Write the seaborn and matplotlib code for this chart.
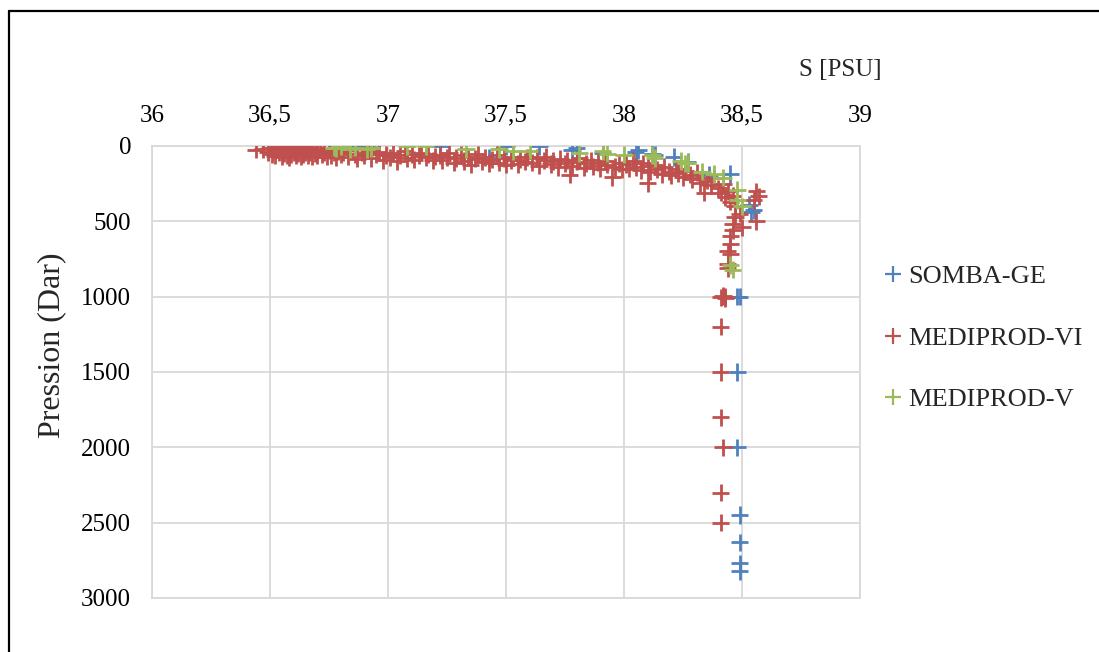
import matplotlib
matplotlib.use("Agg")
import matplotlib.pyplot as plt
from matplotlib.lines import Line2D
import numpy as np
import pandas as pd
import seaborn as sns

# ---- salinity (PSU) and pressure (dbar) for each cruise ----
somba_sal = [36.83, 36.87, 36.91, 37.22, 37.43, 37.50, 37.64, 37.78, 37.80, 37.91,
             38.05, 38.06, 38.12, 38.13, 38.21, 38.27, 38.36, 38.45, 38.53, 38.55,
             38.54, 38.48, 38.49, 38.48, 38.48, 38.49, 38.49, 38.49, 38.49]
somba_pres = [5, 5, 5, 0, 80, 0, 0, 25, 15, 47,
              40, 27, 50, 60, 73, 105, 190, 185, 390, 425,
              440, 1000, 1000, 1500, 2000, 2450, 2630, 2770, 2820]

mediprod_vi_sal = [
    36.44, 36.47, 36.49, 36.50, 36.51, 36.52, 36.52, 36.53, 36.54, 36.54,
    36.55, 36.55, 36.56, 36.56, 36.57, 36.57, 36.58, 36.58, 36.59, 36.59,
    36.60, 36.60, 36.61, 36.61, 36.62, 36.62, 36.63, 36.63, 36.64, 36.64,
    36.65, 36.65, 36.66, 36.66, 36.67, 36.68, 36.68, 36.69, 36.70, 36.70,
    36.71, 36.72, 36.73, 36.74, 36.75, 36.76, 36.77, 36.78, 36.79, 36.80,
    36.81, 36.83, 36.84, 36.86, 36.87, 36.89, 36.90, 36.92, 36.93, 36.95,
    36.96, 36.98, 36.99, 37.01, 37.02, 37.04, 37.05, 37.07, 37.08, 37.10,
    37.11, 37.13, 37.14, 37.16, 37.17, 37.19, 37.20,
    37.22, 37.23, 37.25, 37.26, 37.28, 37.29, 37.31, 37.32, 37.34, 37.35,
    37.37, 37.38, 37.40, 37.41, 37.43, 37.44, 37.46, 37.47, 37.49, 37.50,
    37.52, 37.53, 37.55, 37.56, 37.58, 37.59,
    37.61, 37.63, 37.64, 37.66, 37.67, 37.69, 37.70, 37.72, 37.73, 37.75,
    37.76, 37.77, 37.78, 37.80, 37.81, 37.83, 37.84, 37.86, 37.87, 37.89,
    37.90, 37.92, 37.93, 37.95, 37.96, 37.98, 37.99,
    38.01, 38.02, 38.04, 38.05, 38.07, 38.08, 38.10, 38.10, 38.11, 38.13,
    38.14, 38.16, 38.17, 38.19, 38.20, 38.22, 38.23, 38.25, 38.26, 38.28,
    38.29, 38.31, 38.32, 38.33, 38.34,
    38.35, 38.37, 38.38, 38.40, 38.41, 38.42, 38.43, 38.44, 38.45, 38.46,
    38.47, 38.56, 38.57, 38.55, 38.56, 38.50, 38.49, 38.47, 38.46, 38.45,
    38.46, 38.45, 38.44, 38.44, 38.44, 38.45, 38.43, 38.42, 38.41, 38.43,
    38.41, 38.41, 38.41, 38.42, 38.41, 38.41]
mediprod_vi_pres = [
    25, 20, 40, 10, 55, 30, 65, 15, 45, 5,
    35, 70, 20, 50, 10, 60, 40, 75, 25, 55,
    15, 45, 65, 30, 5, 50, 35, 70, 20, 55,
    40, 10, 60, 30, 45, 20, 70, 50, 35, 65,
    25, 55, 40, 70, 30, 60, 45, 75, 35, 55,
    40, 70, 25, 55, 85, 45, 65, 30, 80, 55,
    40, 95, 60, 75, 45, 100, 60, 35, 80, 55,
    90, 65, 45, 75, 55, 95, 70,
    60, 95, 75, 45, 110, 80, 60, 100, 70, 125,
    85, 55, 105, 75, 115, 90, 60, 110, 80, 125,
    95, 70, 120, 90, 105, 75,
    110, 80, 130, 95, 70, 120, 100, 140, 85, 115,
    95, 190, 130, 105, 80, 145, 115, 95, 135, 110,
    150, 100, 125, 205, 140, 115, 155,
    120, 150, 100, 140, 160, 115, 245, 135, 170, 125,
    155, 185, 140, 170, 195, 150, 180, 205, 165, 190,
    220, 175, 245, 210, 310,
    230, 260, 215, 280, 310, 250, 340, 300, 370, 330,
    400, 300, 335, 360, 500, 540, 450, 470, 560, 600,
    520, 650, 700, 780, 810, 720, 1000, 995, 1005, 1010,
    1200, 1500, 1800, 2000, 2300, 2500]

mediprod_v_sal = [36.77, 36.78, 36.80, 36.84, 36.86, 36.91, 36.93, 37.08, 37.16, 37.33,
                  37.47, 37.53, 37.60, 37.81, 37.91, 37.93, 38.00, 38.12, 38.13, 38.24,
                  38.26, 38.27, 38.33, 38.38, 38.42, 38.48, 38.48, 38.50, 38.45, 38.46]
mediprod_v_pres = [10, 15, 5, 20, 10, 20, 15, 0, 0, 20,
                   20, 35, 30, 47, 35, 50, 57, 60, 80, 100,
                   115, 113, 170, 185, 210, 290, 360, 400, 790, 820]

series_names = ["SOMBA-GE", "MEDIPROD-VI", "MEDIPROD-V"]
series_colors = ["#4F81BD", "#C0504D", "#9BBB59"]
x_ticks = [36, 36.5, 37, 37.5, 38, 38.5, 39]
x_tick_labels = ["36", "36,5", "37", "37,5", "38", "38,5", "39"]
y_ticks = [0, 500, 1000, 1500, 2000, 2500, 3000]

df = pd.concat([
    pd.DataFrame({"S": somba_sal, "P": somba_pres, "campagne": series_names[0]}),
    pd.DataFrame({"S": mediprod_vi_sal, "P": mediprod_vi_pres, "campagne": series_names[1]}),
    pd.DataFrame({"S": mediprod_v_sal, "P": mediprod_v_pres, "campagne": series_names[2]}),
], ignore_index=True)

sns.set_style("white")
plt.rcParams["font.family"] = ["Liberation Serif", "DejaVu Serif"]

W, H = 1099, 652
fig = plt.figure(figsize=(W / 100, H / 100), dpi=100)
ax = fig.add_axes([152 / W, 1 - 598 / H, (860 - 152) / W, (598 - 146) / H])

sns.scatterplot(data=df, x="S", y="P", hue="campagne", hue_order=series_names,
                palette=series_colors, marker="+", s=155, linewidth=2.0,
                legend=False, ax=ax, zorder=3)

ax.set_xlim(36, 39)
ax.set_ylim(3000, 0)
ax.xaxis.tick_top()
ax.set_xticks(x_ticks)
ax.set_xticklabels(x_tick_labels)
ax.set_yticks(y_ticks)
ax.tick_params(axis="x", length=0, pad=14, labelsize=18, colors="black")
ax.tick_params(axis="y", length=0, pad=15, labelsize=18, colors="black")
ax.set_xlabel("")
ax.set_ylabel("")
ax.grid(True, color="#D9D9D9", linewidth=1.3, zorder=0)
ax.set_axisbelow(True)
for sp in ax.spines.values():
    sp.set_color("#D9D9D9")
    sp.set_linewidth(1.3)

fig.text(840 / W, 1 - 70 / H, "S [PSU]", ha="center", va="center", fontsize=18)
fig.text(52 / W, 1 - 345 / H, "Pression (Dar)", ha="center", va="center",
         rotation=90, fontsize=23)

handles = [Line2D([], [], marker="+", linestyle="", color=c, markersize=11,
                  markeredgewidth=1.6) for c in series_colors]
fig.legend(handles, series_names, loc="center left",
           bbox_to_anchor=(884 / W, 1 - 338 / H), frameon=False,
           fontsize=19, handlelength=0.7, handletextpad=0.2,
           labelspacing=1.45, borderpad=0, borderaxespad=0)

# outer frame (left and top edges)
fig.add_artist(Line2D([9 / W, 9 / W], [0, 1 - 11 / H], color="black", lw=1.6,
                      transform=fig.transFigure))
fig.add_artist(Line2D([9 / W, 1], [1 - 11 / H, 1 - 11 / H], color="black", lw=1.6,
                      transform=fig.transFigure))

fig.savefig("out.png", dpi=100, facecolor="white")
